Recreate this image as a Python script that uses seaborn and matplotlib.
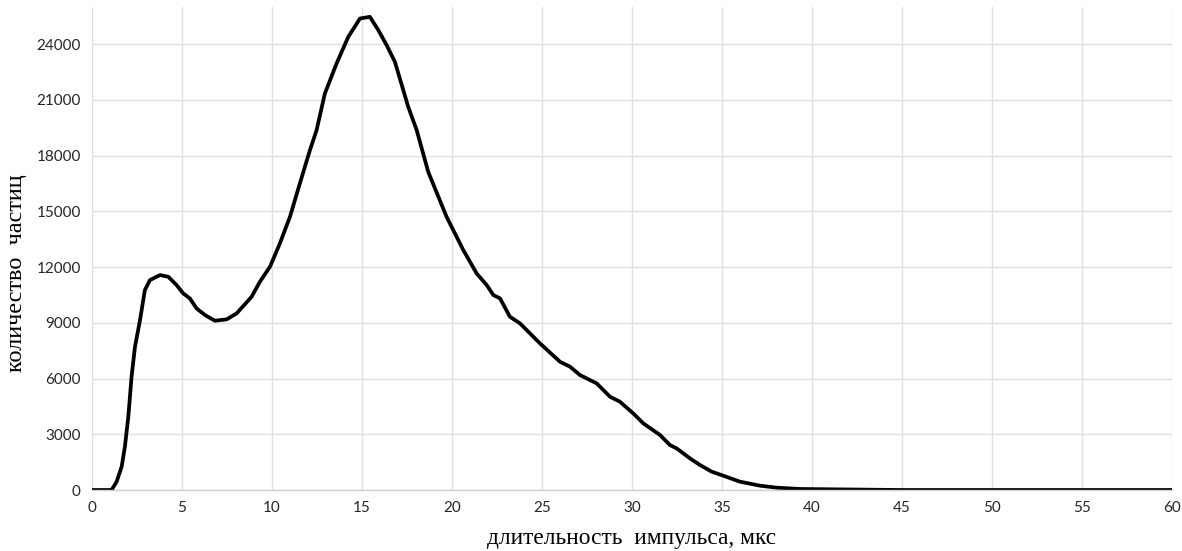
import matplotlib
matplotlib.use("Agg")
import matplotlib.pyplot as plt
import seaborn as sns
import pandas as pd

# pulse duration, µs
duration = [0.0, 0.5, 1.09, 1.37, 1.65, 1.83, 2.02, 2.2, 2.39, 2.67, 2.94, 3.22, 3.78, 4.24,
            4.7, 5.07, 5.44, 5.81, 6.28, 6.83, 7.48, 8.04, 8.87, 9.33, 9.89, 10.44, 11.0,
            11.55, 12.11, 12.48, 12.94, 13.59, 14.24, 14.89, 15.44, 15.91, 16.37, 16.83,
            17.57, 18.04, 18.68, 19.7, 20.63, 21.37, 21.93, 22.3, 22.67, 23.22, 23.78,
            24.89, 26.0, 26.56, 27.11, 28.04, 28.78, 29.33, 30.07, 30.63, 31.56, 32.11,
            32.48, 33.22, 33.78, 34.43, 35.07, 36.0, 37.11, 38.04, 39.33, 41.2, 44.9,
            50.0, 55.0, 60.0]
# particle count
count = [0, 0, 0, 448, 1256, 2332, 3946, 6099, 7713, 9148, 10762, 11300, 11570, 11480,
         11031, 10583, 10314, 9776, 9417, 9112, 9184, 9507, 10403, 11210, 12018, 13273,
         14708, 16502, 18296, 19372, 21345, 22960, 24394, 25381, 25470, 24753, 23946,
         23049, 20627, 19372, 17130, 14708, 12915, 11660, 11031, 10493, 10314, 9327,
         8969, 7892, 6906, 6637, 6188, 5740, 5022, 4753, 4125, 3587, 2959, 2421, 2242,
         1704, 1345, 987, 771, 448, 233, 125, 54, 36, 0, 0, 0, 0]

x_ticks = list(range(0, 61, 5))
y_ticks = list(range(0, 24001, 3000))

sns.set_theme(style="whitegrid")
plt.rcParams['font.family'] = ['Lato', 'DejaVu Sans']

df = pd.DataFrame({"x": duration, "y": count})

fig = plt.figure(figsize=(11.82, 5.51), dpi=100)
ax = fig.add_axes([0.0778, 0.1107, 0.9915 - 0.0778, 0.9873 - 0.1107])
sns.lineplot(data=df, x="x", y="y", ax=ax, color="black", linewidth=2.7)

ax.set_xlim(0, 60)
ax.set_ylim(0, 26000)
ax.set_xticks(x_ticks)
ax.set_yticks(y_ticks)
ax.set_xticklabels([str(t) for t in x_ticks])
ax.set_yticklabels([str(t) for t in y_ticks])
ax.tick_params(axis='both', length=0, labelsize=11, colors='#262626', pad=8)
ax.grid(True, color='#e0e0e0', linewidth=1)
for s in ['top', 'right', 'left']:
    ax.spines[s].set_visible(False)
ax.spines['bottom'].set_color('#d0d0d0')
ax.spines['bottom'].set_linewidth(1)

ax.set_xlabel("длительность  импульса, мкс", family=['Liberation Serif'], fontsize=16.8,
              color='black')
ax.set_ylabel("количество  частиц", family=['Liberation Serif'], fontsize=17.5,
              color='black')
ax.xaxis.label.set_verticalalignment('center')
ax.yaxis.label.set_verticalalignment('center')
ax.yaxis.set_label_coords(-0.0695, 0.45)
ax.xaxis.set_label_coords(0.5, -0.1)

fig.savefig("out.png", dpi=100)
